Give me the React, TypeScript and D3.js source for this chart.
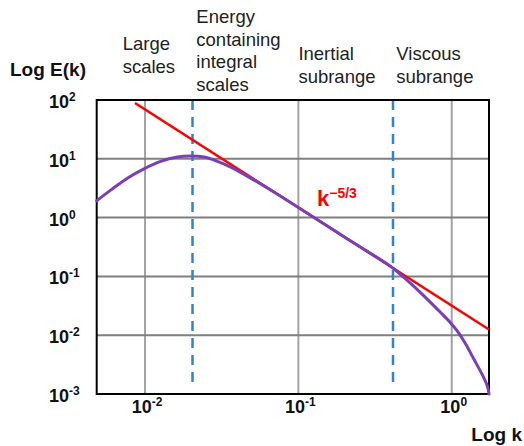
import { useEffect } from 'react';
import * as d3 from 'd3';

// wavenumber k and energy E(k)
const specK = [0.00484, 0.00597, 0.00767, 0.00984, 0.01265, 0.01626, 0.01986, 0.02427, 0.02965, 0.03622, 0.0501, 0.0631, 0.1, 0.1995, 0.4, 0.4645, 0.5395, 0.628, 0.7295, 0.847, 0.984, 1.089, 1.233, 1.396, 1.585, 1.71, 1.75];
const specE = [1.93, 2.93, 4.68, 6.76, 9.04, 10.69, 11.12, 10.69, 9.04, 7.24, 4.52, 3.16, 1.49, 0.468, 0.148, 0.1072, 0.0759, 0.0525, 0.0359, 0.0243, 0.0162, 0.01175, 0.00708, 0.00389, 0.00211, 0.00135, 0.001];

// k^-5/3 reference line endpoints
const refK = [0.0086, 1.75];
const refE = [89, 0.0125];

// region boundaries (blue dashed)
const boundaryK = [0.0204, 0.414];

const yTickExp = [2, 1, 0, -1, -2, -3];
const xTickExp = [-2, -1, 0];

const regionLabels = [
  { lines: ['Large', 'scales'], k: 0.00715, top: 50 },
  { lines: ['Energy', 'containing', 'integral', 'scales'], k: 0.0216, top: 23 },
  { lines: ['Inertial', 'subrange'], k: 0.1, top: 60 },
  { lines: ['Viscous', 'subrange'], k: 0.435, top: 60 },
];

const W = 524;
const H = 446;
const FONT = '"Liberation Sans", Arial, Helvetica, sans-serif';

export default function App() {
  useEffect(() => {
    document.body.style.margin = '0';
  }, []);

  const x = d3.scaleLog().domain([0.00484, 1.75]).range([96.7, 489]);
  const y = d3.scaleLog().domain([1e-3, 1e2]).range([394, 100]);
  const [x0, x1] = x.range();
  const [yb, yt] = y.range();

  const pts = specK.map((k, i) => [x(k), y(specE[i])] as [number, number]);
  const specPath = d3.line().curve(d3.curveCatmullRom.alpha(0.5))(pts) || '';

  return (
    <svg width={W} height={H} style={{ display: 'block', background: '#fff' }} fontFamily={FONT}>
      {/* grid */}
      {xTickExp.map(e => (
        <line key={'gx' + e} x1={x(10 ** e)} x2={x(10 ** e)} y1={yt} y2={yb} stroke="#a3a3a3" strokeWidth={2} />
      ))}
      {yTickExp.slice(1, -1).map(e => (
        <line key={'gy' + e} x1={x0} x2={x1} y1={y(10 ** e)} y2={y(10 ** e)} stroke="#7f7f7f" strokeWidth={2} />
      ))}

      {/* boundaries */}
      {boundaryK.map(k => (
        <line key={'b' + k} x1={x(k)} x2={x(k)} y1={yt} y2={yb - 10} stroke="#2e86c8" strokeWidth={2.5} strokeDasharray="10 7" />
      ))}

      {/* frame */}
      <rect x={x0} y={yt} width={x1 - x0} height={yb - yt} fill="none" stroke="#000" strokeWidth={2} />

      {/* reference line */}
      <line x1={x(refK[0])} y1={y(refE[0])} x2={x(refK[1])} y2={y(refE[1])} stroke="#ff0000" strokeWidth={2.5} />

      {/* spectrum */}
      <path d={specPath} fill="none" stroke="#7a3fb8" strokeWidth={3} strokeLinejoin="round" strokeLinecap="round" />

      <text x={317} y={206} fill="#ff0000" fontWeight="bold" fontSize={22}>
        k<tspan fontSize={14} dy={-8}>−5/3</tspan>
      </text>

      {/* y tick labels */}
      {yTickExp.map(e => (
        <text key={'ty' + e} x={49} y={y(10 ** e) + 8} fontWeight="bold" fontSize={18} fill="#111">
          10<tspan fontSize={12} dy={-7}>{e < 0 ? '-' + Math.abs(e) : e}</tspan>
        </text>
      ))}

      {/* x tick labels */}
      {xTickExp.map(e => (
        <text key={'tx' + e} x={x(10 ** e) + 2} y={413} textAnchor="middle" fontWeight="bold" fontSize={18} fill="#111">
          10<tspan fontSize={12} dy={-7}>{e < 0 ? '-' + Math.abs(e) : e}</tspan>
        </text>
      ))}

      {/* axis titles */}
      <text x={10} y={76} fontWeight="bold" fontSize={19} fill="#111">Log E(k)</text>
      <text x={522} y={441} textAnchor="end" fontWeight="bold" fontSize={19} fill="#111">Log k</text>

      {/* region labels */}
      {regionLabels.map(r => (
        <text key={r.lines[0]} x={x(r.k)} y={r.top} fontSize={18.5} fill="#222">
          {r.lines.map((s, i) => (
            <tspan key={i} x={x(r.k)} dy={i === 0 ? 0 : 22.5}>{s}</tspan>
          ))}
        </text>
      ))}
    </svg>
  );
}
